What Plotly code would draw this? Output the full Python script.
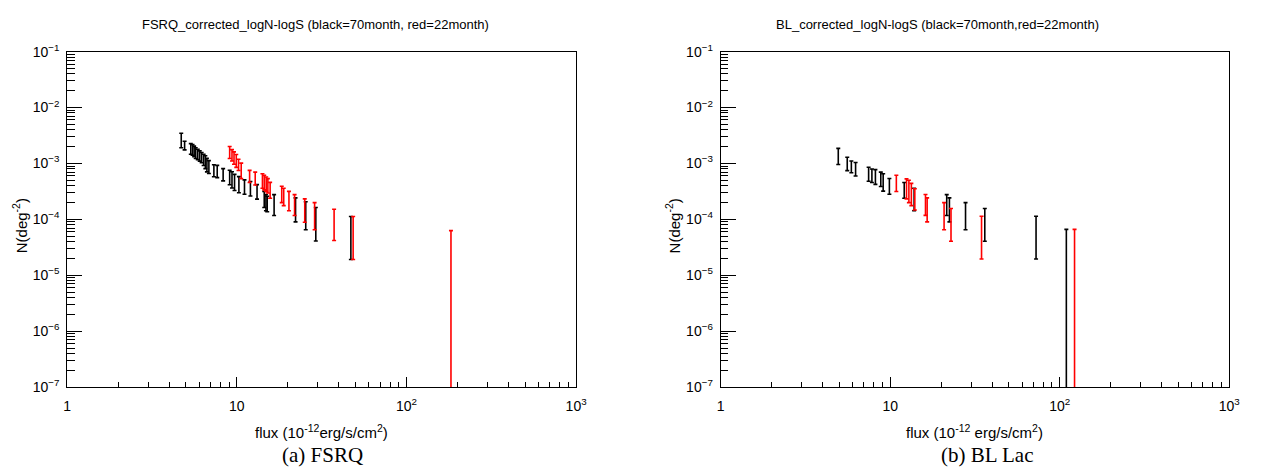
import plotly.graph_objects as go

# ---------------- data ----------------
# FSRQ, black = 70 month
fsrq70_flux = [4.70, 4.92, 5.35, 5.48, 5.60, 5.72, 5.88, 6.04, 6.20, 6.37, 6.52, 6.66, 6.84,
               7.32, 7.66, 8.30, 9.07, 9.36, 9.69, 10.28, 11.09, 12.02, 13.15, 14.50, 14.84,
               15.10, 16.58, 22.18, 25.47, 29.20, 47.0]
fsrq70_N = [2.69e-3, 2.12e-3, 1.86e-3, 1.79e-3, 1.68e-3, 1.57e-3, 1.48e-3, 1.39e-3, 1.30e-3,
            1.19e-3, 1.09e-3, 9.71e-4, 8.94e-4, 7.63e-4, 7.41e-4, 6.48e-4, 5.87e-4, 5.37e-4,
            4.83e-4, 4.40e-4, 3.95e-4, 3.69e-4, 3.24e-4, 2.40e-4, 2.10e-4, 1.98e-4, 1.97e-4,
            1.66e-4, 1.36e-4, 1.02e-4, 6.59e-5]
fsrq70_err = [7.8e-4, 3.7e-4, 4.0e-4, 3.85e-4, 3.6e-4, 3.4e-4, 3.1e-4, 2.9e-4, 2.7e-4,
              2.7e-4, 2.8e-4, 2.63e-4, 2.32e-4, 1.83e-4, 1.83e-4, 1.59e-4, 1.70e-4, 1.72e-4,
              1.54e-4, 1.41e-4, 1.14e-4, 1.07e-4, 9.4e-5, 7.7e-5, 6.7e-5, 6.1e-5, 8.0e-5,
              7.6e-5, 7.1e-5, 6.1e-5, 4.67e-5]

# FSRQ, red = 22 month
fsrq22_flux = [9.07, 9.36, 9.62, 9.92, 10.23, 10.61, 11.89, 12.83, 14.15, 14.50, 14.89, 15.23,
               15.71, 18.39, 18.89, 20.28, 21.89, 25.13, 28.73, 37.43, 48.47, 182.9]
fsrq22_N = [1.62e-3, 1.44e-3, 1.29e-3, 1.15e-3, 9.66e-4, 7.74e-4, 6.04e-4, 5.55e-4, 5.07e-4,
            4.74e-4, 4.45e-4, 4.16e-4, 3.48e-4, 2.95e-4, 2.68e-4, 2.30e-4, 1.97e-4, 1.61e-4,
            1.32e-4, 9.70e-5, 6.59e-5, 3.14e-5]
fsrq22_err = [3.9e-4, 3.3e-4, 3.2e-4, 3.0e-4, 2.2e-4, 2.38e-4, 1.47e-4, 1.44e-4, 1.47e-4,
              1.37e-4, 1.29e-4, 1.20e-4, 1.10e-4, 9.6e-5, 9.2e-5, 8.7e-5, 8.0e-5, 7.2e-5,
              6.7e-5, 5.5e-5, 4.67e-5, 3.14e-5]

# BL Lac, black = 70 month
bl70_flux = [4.94, 5.58, 5.90, 6.25, 7.46, 7.80, 8.18, 8.80, 9.09, 9.89, 12.10, 13.84,
             21.55, 22.35, 27.82, 36.14, 72.5, 109.4]
bl70_N = [1.41e-3, 1.02e-3, 8.95e-4, 8.19e-4, 6.68e-4, 6.27e-4, 5.99e-4, 5.43e-4, 4.87e-4,
          4.09e-4, 3.48e-4, 2.52e-4, 1.97e-4, 1.66e-4, 1.32e-4, 9.86e-5, 6.66e-5, 3.31e-5]
bl70_err = [4.5e-4, 2.75e-4, 2.15e-4, 2.22e-4, 1.86e-4, 1.70e-4, 1.77e-4, 1.57e-4, 1.67e-4,
            1.28e-4, 1.09e-4, 1.09e-4, 8.0e-5, 7.6e-5, 6.7e-5, 5.8e-5, 4.7e-5, 3.31e-5]

# BL Lac, red = 22 month
bl22_flux = [10.87, 12.48, 12.89, 13.33, 13.97, 16.15, 16.52, 20.79, 22.84, 34.58, 122.3]
bl22_N = [4.66e-4, 3.82e-4, 3.50e-4, 3.08e-4, 2.50e-4, 1.98e-4, 1.66e-4, 1.32e-4, 9.86e-5,
          6.66e-5, 3.31e-5]
bl22_err = [1.5e-4, 1.49e-4, 1.51e-4, 1.32e-4, 1.03e-4, 8.0e-5, 7.6e-5, 6.7e-5, 5.8e-5,
            4.7e-5, 3.31e-5]

x_tickvals = [1, 10, 100, 1000]
x_ticktext = ["1", "10", "10<sup>2</sup>", "10<sup>3</sup>"]
y_tickvals = [1e-7, 1e-6, 1e-5, 1e-4, 1e-3, 1e-2, 1e-1]
y_ticktext = ["10<sup>\u22127</sup>", "10<sup>\u22126</sup>", "10<sup>\u22125</sup>",
              "10<sup>\u22124</sup>", "10<sup>\u22123</sup>", "10<sup>\u22122</sup>",
              "10<sup>\u22121</sup>"]

titles = ["FSRQ_corrected_logN-logS (black=70month, red=22month)",
          "BL_corrected_logN-logS (black=70month,red=22month)"]
xtitles = ["flux (10<sup>-12</sup>erg/s/cm<sup>2</sup>)",
           "flux (10<sup>-12</sup> erg/s/cm<sup>2</sup>)"]
ytitle = "N(deg<sup>-2</sup>)"
captions = ["(a) FSRQ", "(b) BL Lac"]

# ---------------- figure ----------------
W, H = 1261, 473
SANS = "Liberation Sans, Arial, Helvetica, sans-serif"
SERIF = "Liberation Serif, DejaVu Serif, serif"

fig = go.Figure()


def add_series(flux, N, err, color, xa, ya):
    fig.add_trace(go.Scatter(
        x=flux, y=N, mode="markers",
        marker=dict(size=1, color="rgba(0,0,0,0)"),
        error_y=dict(type="data", array=err, visible=True, color=color,
                     thickness=1.6, width=2),
        xaxis=xa, yaxis=ya, showlegend=False, hoverinfo="x+y"))


add_series(fsrq70_flux, fsrq70_N, fsrq70_err, "#000000", "x", "y")
add_series(fsrq22_flux, fsrq22_N, fsrq22_err, "#ff0000", "x", "y")
add_series(bl70_flux, bl70_N, bl70_err, "#000000", "x2", "y2")
add_series(bl22_flux, bl22_N, bl22_err, "#ff0000", "x2", "y2")

x_minor = [m * 10 ** d for d in range(0, 3) for m in range(2, 10)]
y_minor = [m * 10.0 ** d for d in range(-7, -1) for m in range(2, 10)]

px = lambda v: v / W
py = lambda v: 1 - v / H

ydom = [py(392), py(43.3)]
xdoms = [[px(64), px(579)], [px(725.3), px(1240)]]

common_x = dict(type="log", range=[0, 3], showline=True, linecolor="black", linewidth=1,
                mirror=True, ticks="inside", ticklen=10, tickwidth=1, tickcolor="black",
                tickmode="array", tickvals=x_tickvals, ticktext=x_ticktext,
                showgrid=False, zeroline=False, ticklabelstandoff=6,
                tickfont=dict(family=SANS, size=14, color="black"),
                minor=dict(ticks="inside", ticklen=5, tickwidth=1, tickcolor="black",
                           tickmode="array", tickvals=x_minor, showgrid=False))
common_y = dict(type="log", range=[-7, -1], showline=True, linecolor="black", linewidth=1,
                mirror=True, ticks="inside", ticklen=15, tickwidth=1, tickcolor="black",
                tickmode="array", tickvals=y_tickvals, ticktext=y_ticktext,
                showgrid=False, zeroline=False, ticklabelstandoff=4,
                tickfont=dict(family=SANS, size=14, color="black"),
                minor=dict(ticks="inside", ticklen=7.5, tickwidth=1, tickcolor="black",
                           tickmode="array", tickvals=y_minor, showgrid=False),
                domain=ydom)

fig.update_layout(
    width=W, height=H, margin=dict(l=0, r=0, t=0, b=0),
    paper_bgcolor="white", plot_bgcolor="white", showlegend=False,
    xaxis=dict(common_x, domain=xdoms[0], anchor="y"),
    yaxis=dict(common_y, anchor="x"),
    xaxis2=dict(common_x, domain=xdoms[1], anchor="y2"),
    yaxis2=dict(common_y, anchor="x2"),
)

ann = []
title_cx = [315, 945]
xt_cx = [321.5, 982.6]
yt_x = [16, 677]
cap_cx = [322, 995]
for i in range(2):
    ann.append(dict(text=titles[i], x=px(title_cx[i]), y=py(15), xref="paper", yref="paper",
                    showarrow=False, xanchor="center", yanchor="middle",
                    font=dict(family=SANS, size=13, color="black")))
    ann.append(dict(text=xtitles[i], x=px(xt_cx[i]), y=py(438), xref="paper", yref="paper",
                    showarrow=False, xanchor="center", yanchor="middle",
                    font=dict(family=SANS, size=15, color="black")))
    ann.append(dict(text=ytitle, x=px(yt_x[i]), y=py(224), xref="paper", yref="paper",
                    showarrow=False, xanchor="center", yanchor="middle", textangle=-90,
                    font=dict(family=SANS, size=15, color="black")))
    ann.append(dict(text=captions[i], x=px(cap_cx[i]), y=py(463), xref="paper", yref="paper",
                    showarrow=False, xanchor="center", yanchor="middle",
                    font=dict(family=SERIF, size=21, color="black")))
fig.update_layout(annotations=ann)

fig.write_html("out.html")
